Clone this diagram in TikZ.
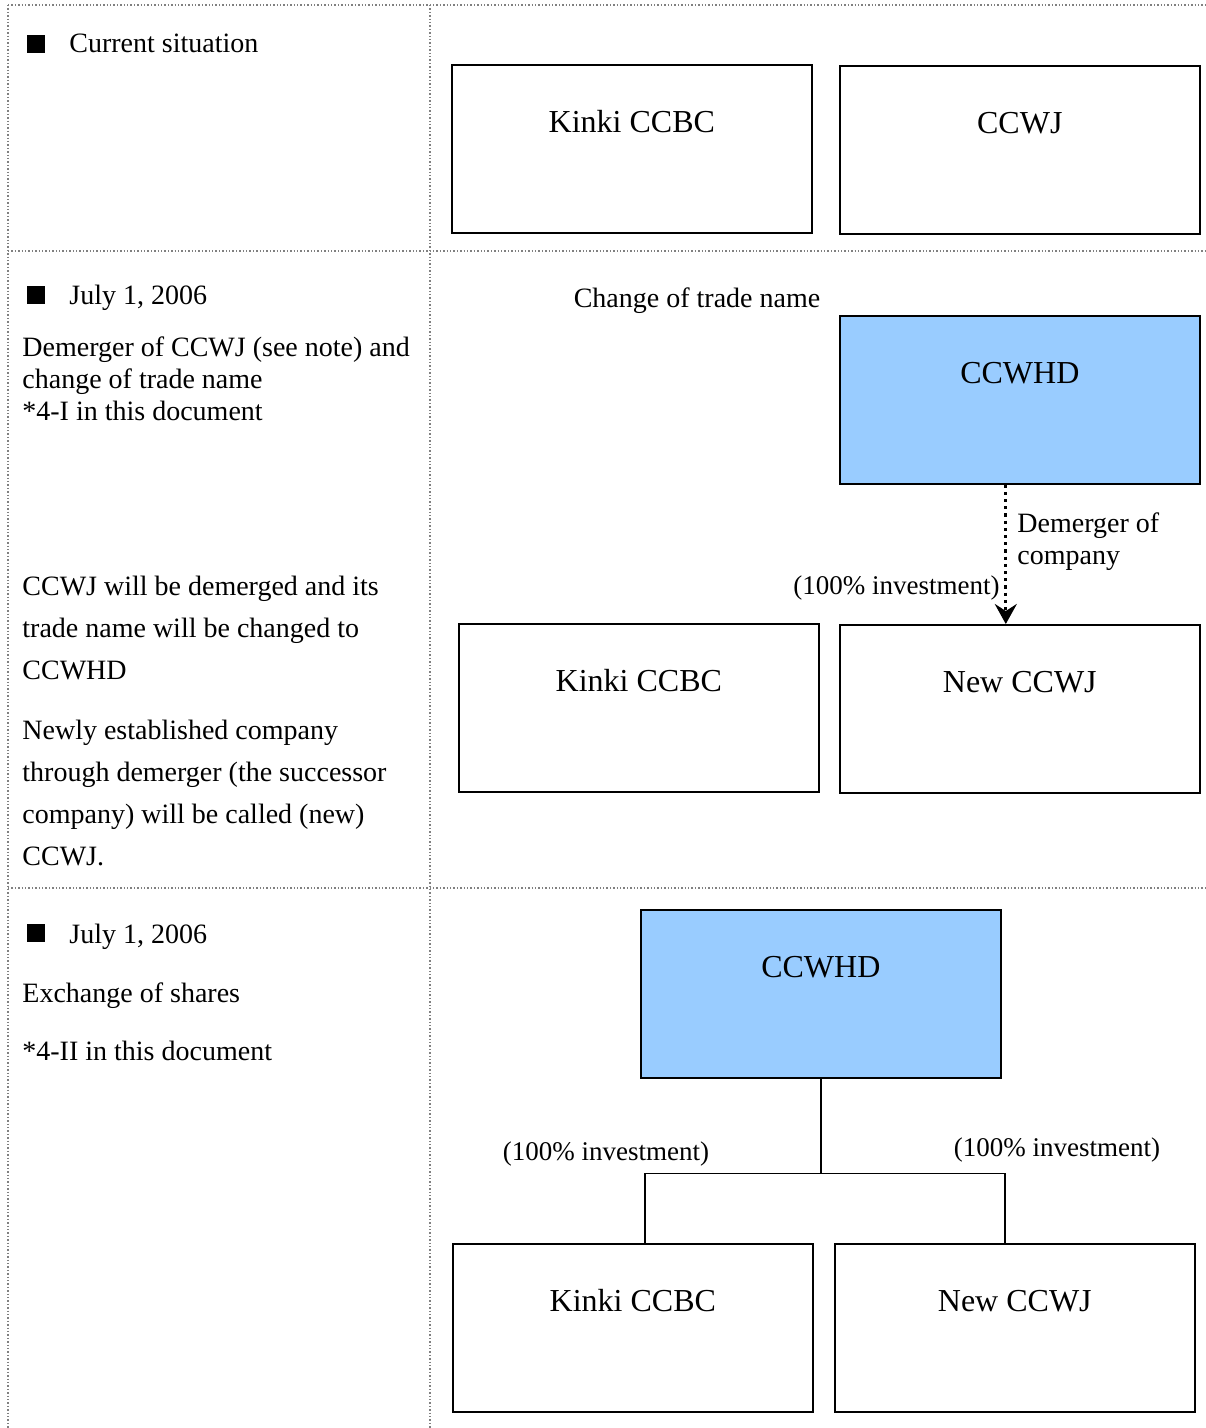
\documentclass[tikz,border=0pt]{standalone}
\usepackage{fontspec}
\setmainfont{Liberation Serif}
\usetikzlibrary{positioning}
\usetikzlibrary{arrows.meta}
\definecolor{hdblue}{RGB}{153,204,255}

\tikzset{
  frameline/.style={gray, densely dotted, line width=0.7pt},
  company/.style={draw, line width=0.8pt, inner sep=0pt, anchor=north west,
    minimum width=180pt, text height=34pt, text depth=50pt,
    font=\fontsize{16}{18}\selectfont},
  holding/.style={company, fill=hdblue},
  bullet/.style={fill=black, inner sep=0pt, minimum size=9pt},
  note/.style={anchor=base west, align=left, inner sep=0pt,
    font=\fontsize{14}{16}\selectfont},
  tag/.style={anchor=base, inner sep=0pt, font=\fontsize{14}{16}\selectfont},
  share/.style={tag, font=\fontsize{13.5}{16}\selectfont},
}

\begin{document}
\begin{tikzpicture}[x=0.5pt, y=-0.5pt]
\useasboundingbox (0,0) rectangle (1205,1428);

% frame
\draw[frameline] (8,5) -- (1205,5);
\draw[frameline] (8,251) -- (1205,251);
\draw[frameline] (8,888) -- (1205,888);
\draw[frameline] (8,5) -- (8,1428);
\draw[frameline] (430,5) -- (430,1428);

% current situation
\node[bullet] (sqA) at (36,44) {};
\node[note] (capA) at (69,53) {Current situation};
\node[company] (kinkiA) at (451,64) {Kinki CCBC};
\node[company] (ccwjA) at (839,65) {CCWJ};

% demerger (multi-line notes sit on their last baseline)
\node[bullet] (sqB) at (36,295) {};
\node[note] (dateB) at (69,305) {July 1, 2006};
\node[note] (stepB) at (22,420) {Demerger of CCWJ (see note) and\\change of trade name\\*4-I in this document};
\node[note] (textB) at (22,679) {CCWJ will be demerged and its\\[5pt]trade name will be changed to\\[5pt]CCWHD};
\node[note] (textC) at (22,865) {Newly established company\\[5pt]through demerger (the successor\\[5pt]company) will be called (new)\\[5pt]CCWJ.};

\node[tag] (rename) at (697,308) {Change of trade name};
\node[holding] (hdA) at (839,315) {CCWHD};
\node[company] (kinkiB) at (458,623) {Kinki CCBC};
\node[company] (newB) at (839,624) {New CCWJ};
\draw[dotted, line width=1.6pt, -{Stealth[length=10pt, width=11pt, inset=3.5pt]}]
  ([xshift=-7pt]hdA.south) -- ([xshift=-7pt]newB.north);
\node[note] (split) at (1017,564) {Demerger of\\company};
\node[share, anchor=base east] (invA) at (1000,594) {(100\% investment)};

% exchange of shares
\node[bullet] (sqC) at (36,933) {};
\node[note] (dateC) at (69,943) {July 1, 2006};
\node[note] (stepC) at (22,1002) {Exchange of shares};
\node[note] (refC) at (22,1060) {*4-II in this document};

\node[holding] (hdB) at (640,909) {CCWHD};
\node[company] (kinkiC) at (452,1243) {Kinki CCBC};
\node[company] (newC) at (834,1243) {New CCWJ};
\path (hdB.south) ++(0,95) coordinate (fork);
\draw[line width=0.8pt] (hdB.south) -- (fork);
\draw[line width=0.8pt] ([xshift=6pt]kinkiC.north) |- (fork) -| ([xshift=-5pt]newC.north);
\node[share] (invB) at (606,1160) {(100\% investment)};
\node[share] (invC) at (1057,1156) {(100\% investment)};
\end{tikzpicture}
\end{document}
